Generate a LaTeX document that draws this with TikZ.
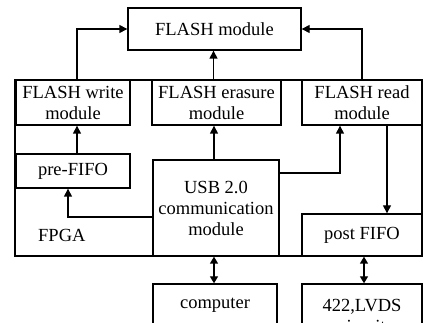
\documentclass[tikz,border=0pt]{standalone}
\usepackage{fontspec}
\setmainfont{Liberation Serif}
\usetikzlibrary{arrows.meta,calc}
\begin{document}
\begin{tikzpicture}[x=1pt,y=-1pt,
  box/.style={draw,line width=1.4pt,fill=white,align=center,inner sep=0pt,
    font=\fontsize{18.5}{21}\selectfont},
  arr/.style={line width=1.4pt,-{Triangle[length=8pt,width=8pt]}},
  darr/.style={line width=1.4pt,{Triangle[length=7pt,width=8pt]}-{Triangle[length=7pt,width=8pt]}}]
\useasboundingbox (0,0) rectangle (424,323);
\clip (0,0) rectangle (424,323);
% FPGA frame
\node[draw,line width=1.4pt,minimum width=407pt,minimum height=176pt,inner sep=0pt] (fpga) at (218.5,168) {};
\node[font=\fontsize{18.5}{21}\selectfont,anchor=base west,inner sep=0pt] (fpgalbl) at (38,242) {FPGA};
\node[box,minimum width=173pt,minimum height=42pt] (flash) at (214.5,29) {FLASH module};
\node[box,minimum width=114pt,minimum height=45pt] (write) at (73,102.5) {FLASH write\\module};
\node[box,minimum width=129pt,minimum height=45pt] (erase) at (216.5,102.5) {FLASH erasure\\module};
\node[box,minimum width=120pt,minimum height=45pt] (read) at (362,102.5) {FLASH read\\module};
\node[box,minimum width=114pt,minimum height=34pt] (pre) at (73,171) {pre-FIFO};
\node[box,minimum width=126pt,minimum height=96pt] (usb) at (216,208) {USB 2.0\\communication\\module};
\node[box,minimum width=120pt,minimum height=42pt] (post) at (362,235) {post FIFO};
\node[box,minimum width=124pt,minimum height=42pt] (comp) at (215,305) {computer};
\node[box,minimum width=120pt,minimum height=64pt] (lvds) at (362,316) {422,LVDS\\circuit};
% connectors
\draw[arr] ($(write.north)+(4,0)$) |- (flash.west);
\draw[arr] (read.north) |- (flash.east);
\draw[arr] ($(erase.north)+(-3,0)$) -- ($(erase.north |- flash.south)+(-3,0)$);
\draw[arr] ($(pre.north)+(4,0)$) -- ($(write.south)+(4,0)$);
\draw[arr] ($(usb.north)+(-2,0)$) -- ($(usb.north |- erase.south)+(-2,0)$);
\draw[arr] ($(usb.east)+(0,-35)$) -| ($(read.south)+(-22,0)$);
\draw[arr] ($(read.south)+(25,0)$) -- ($(post.north)+(25,0)$);
\draw[arr] ($(usb.west)+(0,9)$) -| ($(pre.south)+(-5,0)$);
\draw[darr] ($(usb.south)+(-2,0)$) -- ($(comp.north)+(-1,0)$);
\draw[darr] ($(post.south)+(2,0)$) -- ($(lvds.north)+(2,0)$);
\end{tikzpicture}
\end{document}
